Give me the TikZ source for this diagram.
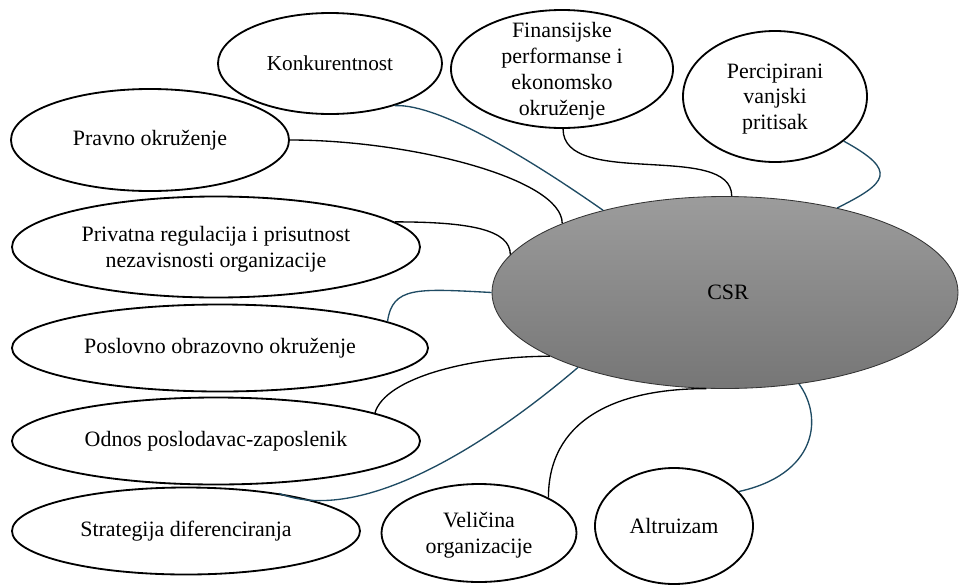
\documentclass[tikz,border=0pt]{standalone}
\usepackage{fontspec}
\setmainfont{Liberation Serif}
\usetikzlibrary{shapes.geometric}

\definecolor{linkblue}{HTML}{1F4B63}
\definecolor{csrtop}{RGB}{156,156,156}
\definecolor{csrbot}{RGB}{118,118,118}
% full line height, as the text box of a word processor has it
\newcommand{\lnstrut}{\rule[-0.216em]{0pt}{1.107em}}

\tikzset{
  bubble/.style={ellipse,draw=black,line width=1.3pt,fill=white,inner sep=0pt,align=center,
    font=\fontsize{15.6}{18.4}\selectfont},
  core/.style={ellipse,draw=black!80,line width=0.6pt,top color=csrtop,bottom color=csrbot,
    inner sep=0pt,font=\fontsize{15.6}{18.4}\selectfont},
  link/.style={black,line width=0.95pt},
  linkb/.style={linkblue,line width=0.95pt}
}

\begin{document}
\begin{tikzpicture}[x=0.25mm,y=-0.25mm]
  \useasboundingbox (0,0) rectangle (960,585);
  % the central ellipse
  \node[core,minimum width=116.5mm,minimum height=48mm] (csr) at (725,292.5) {\hspace{1.5mm}CSR};
  % factors round it
  \node[bubble,minimum width=56mm,minimum height=25.25mm,font=\fontsize{15.1}{18}\selectfont] (konk) at (330,63.5) {Konkurentnost};
  \node[bubble,minimum width=55.5mm,minimum height=29.5mm,inner ysep=-3.5mm] (fin) at (562,69) {\lnstrut Finansijske\\performanse i\\ekonomsko\\okruženje\lnstrut};
  \node[bubble,minimum width=46mm,minimum height=32.75mm] (perc) at (775,96.5) {\lnstrut Percipirani\\vanjski\\pritisak\lnstrut};
  \node[bubble,minimum width=69.5mm,minimum height=25.5mm] (pravno) at (150,140) {Pravno okruženje};
  \node[bubble,minimum width=102mm,minimum height=25.25mm] (priv) at (216,247) {\lnstrut Privatna regulacija i prisutnost\\nezavisnosti organizacije\lnstrut};
  \node[bubble,minimum width=104mm,minimum height=21.75mm] (posl) at (220,348) {Poslovno obrazovno okruženje};
  \node[bubble,minimum width=102mm,minimum height=21.75mm] (odnos) at (216,441) {Odnos poslodavac-zaposlenik};
  \node[bubble,minimum width=87mm,minimum height=21.75mm] (strat) at (186,531) {Strategija diferenciranja};
  \node[bubble,minimum width=48.75mm,minimum height=24.5mm] (vel) at (479,533) {\lnstrut Veličina\\organizacije\lnstrut};
  \node[bubble,minimum width=39.5mm,minimum height=29mm] (altr) at (674,526) {Altruizam};
  % connectors
  \draw[linkb] (konk.327) .. controls +(45,-2) and +(-70,-49) .. (csr.146);
  \draw[link] (pravno.0) .. controls +(120,0) and +(0,-45) .. (csr.157);
  \draw[link] (priv.8) .. controls +(75,0) and +(0,-25) .. (csr.170);
  \draw[linkb] (posl.9) .. controls +(5,-35) and +(-75,-4) .. (csr.180);
  \draw[link] (odnos.10) .. controls +(10,-35) and +(-80,0) .. (csr.200);
  \draw[linkb] (strat.22) .. controls +(90,35) and +(-70,60) .. (csr.207);
  \draw[link] (fin.271) .. controls +(0,60) and +(0,-55) .. (csr.86);
  \draw[linkb] (perc.327) .. controls +(55,30) and +(50,-25) .. (csr.37);
  \draw[link] (vel.27) .. controls +(0,-75) and +(-95,0) .. (csr.259);
  \draw[linkb] (altr.28) .. controls +(77,-17) and +(25,35) .. (csr.309);
\end{tikzpicture}
\end{document}
